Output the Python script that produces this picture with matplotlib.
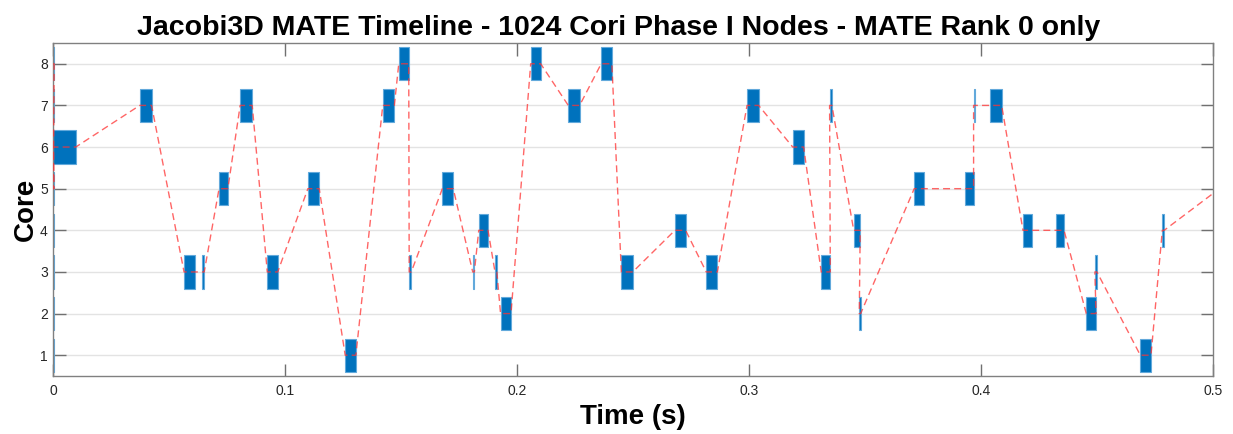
### Jacobi3D MATE timeline - rank 0 tasks per core
import numpy as np
import matplotlib.pyplot as plt
from matplotlib.patches import Rectangle

plt.rcParams['font.family'] = ['Liberation Sans', 'DejaVu Sans']

### Data
# tiny startup marks at t = 0 (not on the path)
init_cores = [1, 2, 3, 4, 7]
init_len = 0.0004

# tasks in execution order: start (s), end (s), core
t_start = [0.0, 0.0, 0.0, 0.0373, 0.0564, 0.0643, 0.0715, 0.0806, 0.0923,
           0.1098, 0.1259, 0.1421, 0.1490, 0.1535, 0.1678, 0.1809, 0.1835,
           0.1905, 0.1929, 0.2059, 0.2221, 0.2363, 0.2450, 0.2681, 0.2816,
           0.2992, 0.3189, 0.3312, 0.3348, 0.3452, 0.3476, 0.3713, 0.3930,
           0.3969, 0.4039, 0.4182, 0.4326, 0.4455, 0.4492, 0.4688, 0.4783,
           0.5029]
t_end = [0.0004, 0.0004, 0.0097, 0.0424, 0.0611, 0.0651, 0.0753, 0.0858, 0.0968,
         0.1147, 0.1305, 0.1471, 0.1533, 0.1544, 0.1725, 0.1816, 0.1875,
         0.1913, 0.1974, 0.2102, 0.2270, 0.2409, 0.2499, 0.2727, 0.2864,
         0.3042, 0.3236, 0.3351, 0.3358, 0.3480, 0.3482, 0.3756, 0.3969,
         0.3977, 0.4090, 0.4222, 0.4359, 0.4497, 0.4501, 0.4734, 0.4791,
         0.5060]
cores = [8, 5, 6, 7, 3, 3, 5, 7, 3,
         5, 1, 7, 8, 3, 5, 3, 4,
         3, 2, 8, 7, 8, 3, 4, 3,
         7, 6, 3, 7, 4, 2, 5, 5,
         7, 7, 4, 4, 2, 3, 1, 4,
         5]

bar_h = 0.8
face = '#0072BD'
edge = '#62A9DB'

fig = plt.figure(figsize=(12.33, 4.34), dpi=100)
ax = fig.add_axes([0.0432, 0.1336, 0.9403, 0.7674])

# task blocks
for s, e, c in zip(t_start, t_end, cores):
    ax.add_patch(Rectangle((s, c - bar_h / 2), e - s, bar_h, facecolor=face,
                           edgecolor=edge, linewidth=0.8, zorder=2))
for c in init_cores:
    ax.add_patch(Rectangle((0, c - bar_h / 2), init_len, bar_h, facecolor=face,
                           edgecolor=edge, linewidth=0.8, zorder=2))

# path through start/end of each task
px, py = [], []
for s, e, c in zip(t_start, t_end, cores):
    px += [s, e]
    py += [c, c]
ax.plot(px, py, color='#FF3333', alpha=0.75, linestyle=(0, (5, 3)),
        linewidth=1.0, zorder=3)

ax.set_xlim(0, 0.5)
ax.set_ylim(0.5, 8.5)
ax.set_xticks([0, 0.1, 0.2, 0.3, 0.4, 0.5])
ax.set_xticklabels(['0', '0.1', '0.2', '0.3', '0.4', '0.5'])
ax.set_yticks(range(1, 9))

ax.yaxis.grid(True, color='#E3E3E3', linewidth=1.0, zorder=0)
ax.set_axisbelow(True)
ax.tick_params(direction='in', length=9, width=1.0, color='#707070',
               labelcolor='#262626', labelsize=10, top=True, right=True)
ax.tick_params(axis='x', pad=6)
ax.tick_params(axis='y', pad=4)
for sp in ax.spines.values():
    sp.set_color('#808080')
    sp.set_linewidth(1.0)

ax.set_title('Jacobi3D MATE Timeline - 1024 Cori Phase I Nodes - MATE Rank 0 only',
             fontsize=20.5, fontweight='bold', pad=6, x=0.488)
ax.set_xlabel('Time (s)', fontsize=20, fontweight='bold', labelpad=4)
ax.set_ylabel('Core', fontsize=20, fontweight='bold', labelpad=1)

fig.savefig('out.png', dpi=100)
